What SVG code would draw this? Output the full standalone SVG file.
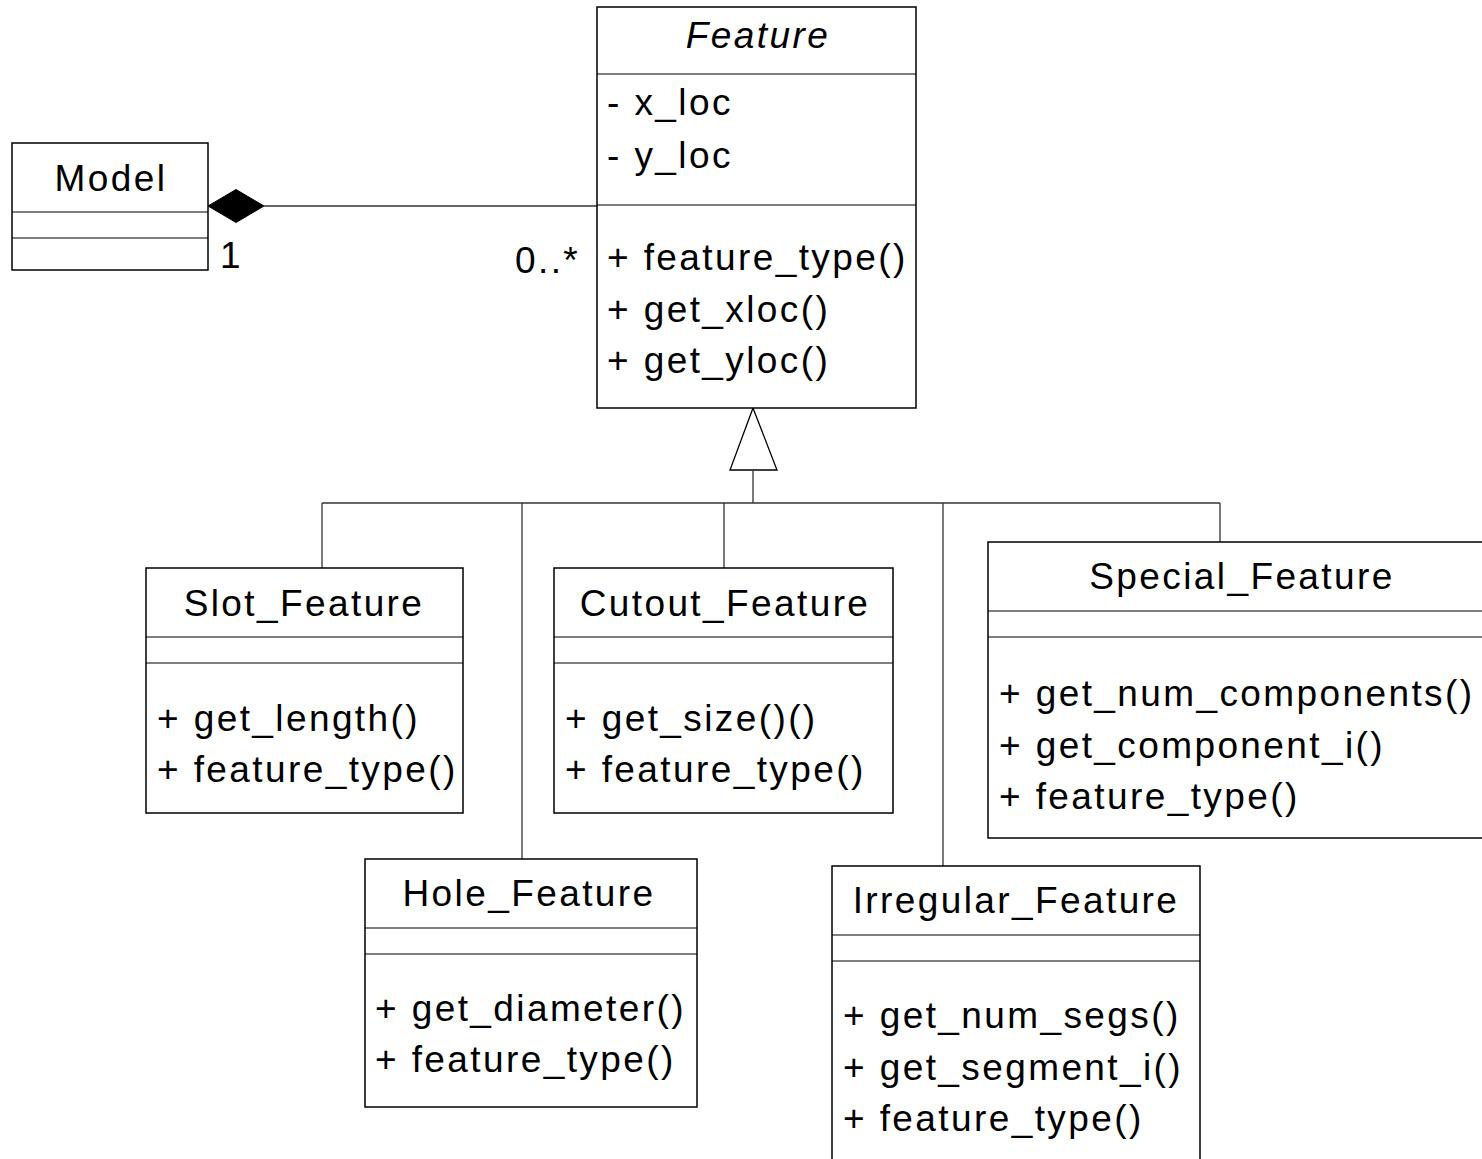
<svg xmlns="http://www.w3.org/2000/svg" width="1482" height="1159" viewBox="0 0 1482 1159">
  <style>
    .box { fill: #fff; stroke: #000; stroke-width: 1.5; }
    .div { stroke: #000; stroke-width: 1.2; }
    .t { font-family: "Liberation Sans", Arial, sans-serif; font-size: 37px; letter-spacing: 2.4px; fill: #000; }
    .c { text-anchor: middle; }
    .i { font-style: italic; }
    .ln { stroke: #333; stroke-width: 1.3; fill: none; }
  </style>
  <rect width="1482" height="1159" fill="#fff"/>

  <!-- connectors: composition and generalisation -->
  <g id="connectors">
    <line class="ln" x1="264" y1="206" x2="597" y2="206"/>
    <polygon points="208,206 236,189.5 264,206 236,222.5" fill="#000" stroke="#000" stroke-width="1"/>
    <polygon points="753,408 730,470 777,470" fill="#fff" stroke="#000" stroke-width="1.3"/>
    <line class="ln" x1="753" y1="470" x2="753" y2="503"/>
    <line class="ln" x1="322" y1="503" x2="1220" y2="503"/>
    <line class="ln" x1="322" y1="503" x2="322" y2="568"/>
    <line class="ln" x1="522" y1="503" x2="522" y2="859"/>
    <line class="ln" x1="724" y1="503" x2="724" y2="568"/>
    <line class="ln" x1="943" y1="503" x2="943" y2="866"/>
    <line class="ln" x1="1220" y1="503" x2="1220" y2="542"/>
    <text class="t" x="220" y="268">1</text>
    <text class="t" x="515" y="273">0..*</text>
  </g>

  <g id="model">
    <rect class="box" x="12" y="143" width="196" height="127"/>
    <line class="div" x1="12" y1="212" x2="208" y2="212"/>
    <line class="div" x1="12" y1="238" x2="208" y2="238"/>
    <text class="t c" x="111" y="191">Model</text>
  </g>

  <g id="feature">
    <rect class="box" x="597" y="7" width="319" height="401"/>
    <line class="div" x1="597" y1="74" x2="916" y2="74"/>
    <line class="div" x1="597" y1="205" x2="916" y2="205"/>
    <text class="t c i" x="758" y="48">Feature</text>
    <text class="t" x="607" y="115">- x_loc</text>
    <text class="t" x="607" y="168">- y_loc</text>
    <text class="t" x="607" y="270">+ feature_type()</text>
    <text class="t" x="607" y="322">+ get_xloc()</text>
    <text class="t" x="607" y="373">+ get_yloc()</text>
  </g>

  <g id="slot_feature">
    <rect class="box" x="146" y="568" width="317" height="245"/>
    <line class="div" x1="146" y1="637" x2="463" y2="637"/>
    <line class="div" x1="146" y1="663" x2="463" y2="663"/>
    <text class="t c" x="304" y="616">Slot_Feature</text>
    <text class="t" x="157" y="731">+ get_length()</text>
    <text class="t" x="157" y="782">+ feature_type()</text>
  </g>

  <g id="cutout_feature">
    <rect class="box" x="554" y="568" width="339" height="245"/>
    <line class="div" x1="554" y1="637" x2="893" y2="637"/>
    <line class="div" x1="554" y1="663" x2="893" y2="663"/>
    <text class="t c" x="725" y="616">Cutout_Feature</text>
    <text class="t" x="565" y="731">+ get_size()()</text>
    <text class="t" x="565" y="782">+ feature_type()</text>
  </g>

  <g id="special_feature">
    <rect class="box" x="988" y="542" width="500" height="296"/>
    <line class="div" x1="988" y1="611" x2="1482" y2="611"/>
    <line class="div" x1="988" y1="637" x2="1482" y2="637"/>
    <text class="t c" x="1242" y="589">Special_Feature</text>
    <text class="t" x="999" y="706">+ get_num_components()</text>
    <text class="t" x="999" y="758">+ get_component_i()</text>
    <text class="t" x="999" y="809">+ feature_type()</text>
  </g>

  <g id="hole_feature">
    <rect class="box" x="365" y="859" width="332" height="248"/>
    <line class="div" x1="365" y1="928" x2="697" y2="928"/>
    <line class="div" x1="365" y1="954" x2="697" y2="954"/>
    <text class="t c" x="529" y="906">Hole_Feature</text>
    <text class="t" x="375" y="1021">+ get_diameter()</text>
    <text class="t" x="375" y="1072">+ feature_type()</text>
  </g>

  <g id="irregular_feature">
    <rect class="box" x="832" y="866" width="368" height="310"/>
    <line class="div" x1="832" y1="935" x2="1200" y2="935"/>
    <line class="div" x1="832" y1="961" x2="1200" y2="961"/>
    <text class="t c" x="1016" y="913">Irregular_Feature</text>
    <text class="t" x="843" y="1028">+ get_num_segs()</text>
    <text class="t" x="843" y="1080">+ get_segment_i()</text>
    <text class="t" x="843" y="1131">+ feature_type()</text>
  </g>
</svg>
